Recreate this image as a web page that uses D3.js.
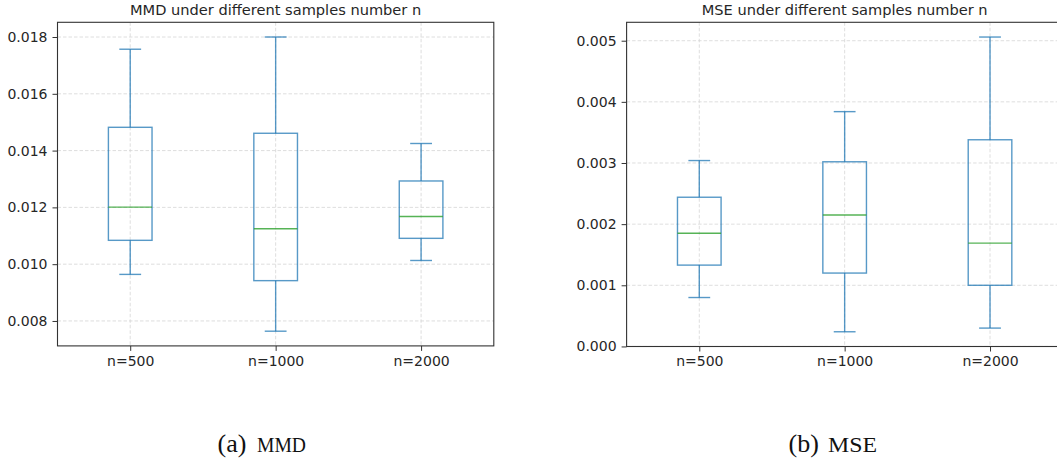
<!DOCTYPE html>
<html>
<head>
<meta charset="utf-8">
<title>MMD / MSE boxplots</title>
<script src="https://d3js.org/d3.v7.min.js"></script>
<style>
  body { margin: 0; background: #fff; }
  svg { display: block; }
  .tick text { font-family: "DejaVu Sans", sans-serif; font-size: 14px; fill: #262626; }
  .tick line { stroke: #333; }
</style>
</head>
<body>
<div id="chart"></div>
<script>
// categories (x axis)
var categories = ["n=500", "n=1000", "n=2000"];

// MMD box stats
var mmdLow    = [0.00964, 0.00764, 0.01013];
var mmdQ1     = [0.01084, 0.00942, 0.01091];
var mmdMedian = [0.01201, 0.01125, 0.01168];
var mmdQ3     = [0.01482, 0.01461, 0.01293];
var mmdHigh   = [0.01757, 0.01800, 0.01425];

// MSE box stats
var mseLow    = [0.00080, 0.00024, 0.00030];
var mseQ1     = [0.00133, 0.00120, 0.00100];
var mseMedian = [0.00185, 0.00215, 0.00169];
var mseQ3     = [0.00244, 0.00302, 0.00338];
var mseHigh   = [0.00304, 0.00384, 0.00506];

var titles = ["MMD under different samples number n", "MSE under different samples number n"];
var captionTags = ["(a)", "(b)"];
var captionNames = ["MMD", "MSE"];

var W = 1057, H = 463;
var blue = "#1f77b4", green = "#2ca02c";

var svg = d3.select("#chart").append("svg")
    .attr("width", W)
    .attr("height", H);

function boxRows(low, q1, med, q3, high) {
    return categories.map(function(c, i) {
        return { cat: c, low: low[i], q1: q1[i], med: med[i], q3: q3[i], high: high[i] };
    });
}

function drawPanel(opt) {
    var rows = opt.rows;
    var width = opt.width, height = opt.height;

    var g = svg.append("g")
        .attr("transform", "translate(" + opt.left + "," + opt.top + ")");

    var x = d3.scalePoint().domain(categories).range([0, width]).padding(0.5);
    var step = x.step();

    // matplotlib style 5% margin around the data
    var lo = d3.min(rows, function(d) { return d.low; });
    var hi = d3.max(rows, function(d) { return d.high; });
    var pad = (hi - lo) * 0.05;
    var y = d3.scaleLinear().domain([lo - pad, hi + pad]).range([height, 0]);
    var yTicks = y.ticks(6);

    // grid
    g.append("g").selectAll("line.hgrid")
        .data(yTicks)
        .join("line")
        .attr("x1", 0).attr("x2", width)
        .attr("y1", function(d) { return y(d); })
        .attr("y2", function(d) { return y(d); })
        .attr("stroke", "#d5d5d5")
        .attr("stroke-width", 0.8)
        .attr("stroke-dasharray", "3.5,2");
    g.append("g").selectAll("line.vgrid")
        .data(categories)
        .join("line")
        .attr("x1", function(d) { return x(d); })
        .attr("x2", function(d) { return x(d); })
        .attr("y1", 0).attr("y2", height)
        .attr("stroke", "#d5d5d5")
        .attr("stroke-width", 0.8)
        .attr("stroke-dasharray", "3.5,2");

    var bw = step * 0.3, cw = step * 0.15;

    var box = g.append("g").selectAll("g.box")
        .data(rows)
        .join("g")
        .attr("fill", "none")
        .attr("stroke-width", 1.4);

    // whiskers
    box.append("line")
        .attr("x1", function(d) { return x(d.cat); })
        .attr("x2", function(d) { return x(d.cat); })
        .attr("y1", function(d) { return y(d.q3); })
        .attr("y2", function(d) { return y(d.high); })
        .attr("stroke", blue).attr("stroke-opacity", 0.75);
    box.append("line")
        .attr("x1", function(d) { return x(d.cat); })
        .attr("x2", function(d) { return x(d.cat); })
        .attr("y1", function(d) { return y(d.q1); })
        .attr("y2", function(d) { return y(d.low); })
        .attr("stroke", blue).attr("stroke-opacity", 0.75);
    // caps
    box.append("line")
        .attr("x1", function(d) { return x(d.cat) - cw / 2; })
        .attr("x2", function(d) { return x(d.cat) + cw / 2; })
        .attr("y1", function(d) { return y(d.high); })
        .attr("y2", function(d) { return y(d.high); })
        .attr("stroke", blue).attr("stroke-opacity", 0.75);
    box.append("line")
        .attr("x1", function(d) { return x(d.cat) - cw / 2; })
        .attr("x2", function(d) { return x(d.cat) + cw / 2; })
        .attr("y1", function(d) { return y(d.low); })
        .attr("y2", function(d) { return y(d.low); })
        .attr("stroke", blue).attr("stroke-opacity", 0.75);
    // box
    box.append("rect")
        .attr("x", function(d) { return x(d.cat) - bw / 2; })
        .attr("width", bw)
        .attr("y", function(d) { return y(d.q3); })
        .attr("height", function(d) { return y(d.q1) - y(d.q3); })
        .attr("stroke", blue).attr("stroke-opacity", 0.75);
    // median
    box.append("line")
        .attr("x1", function(d) { return x(d.cat) - bw / 2; })
        .attr("x2", function(d) { return x(d.cat) + bw / 2; })
        .attr("y1", function(d) { return y(d.med); })
        .attr("y2", function(d) { return y(d.med); })
        .attr("stroke", green).attr("stroke-opacity", 0.8);

    // axes
    g.append("g")
        .attr("transform", "translate(0," + height + ")")
        .call(d3.axisBottom(x).tickSize(5).tickPadding(5))
        .call(function(a) { a.select(".domain").remove(); });
    g.append("g")
        .call(d3.axisLeft(y).tickValues(yTicks).tickSize(5).tickPadding(5).tickFormat(d3.format(".3f")))
        .call(function(a) { a.select(".domain").remove(); });

    // spines
    g.append("rect")
        .attr("width", width).attr("height", height)
        .attr("fill", "none")
        .attr("stroke", "#333")
        .attr("stroke-width", 1.1);

    // title
    g.append("text")
        .attr("x", width / 2)
        .attr("y", 15 - opt.top)
        .attr("text-anchor", "middle")
        .attr("font-family", "DejaVu Sans, sans-serif")
        .attr("font-size", "14.6px")
        .attr("fill", "#262626")
        .text(opt.title);

    // caption below: "(x)" in serif, name in a narrow typewriter-like serif
    svg.append("text")
        .attr("x", opt.captionX - 44)
        .attr("y", 452)
        .attr("font-family", "Liberation Serif, serif")
        .attr("font-size", "26px")
        .attr("fill", "#111")
        .text(opt.tag);
    svg.append("text")
        .attr("x", opt.captionX - 4.5)
        .attr("y", 452)
        .attr("font-family", "Liberation Serif, serif")
        .attr("font-size", "21px")
        .attr("textLength", 49)
        .attr("lengthAdjust", "spacingAndGlyphs")
        .attr("fill", "#111")
        .text(opt.name);
}

drawPanel({
    rows: boxRows(mmdLow, mmdQ1, mmdMedian, mmdQ3, mmdHigh),
    left: 57.5, top: 22.3, width: 436.3, height: 323.6,
    title: titles[0], tag: captionTags[0], name: captionNames[0], captionX: 261.5
});
drawPanel({
    rows: boxRows(mseLow, mseQ1, mseMedian, mseQ3, mseHigh),
    left: 626.6, top: 22.3, width: 436.1, height: 324.2,
    title: titles[1], tag: captionTags[1], name: captionNames[1], captionX: 832.5
});
</script>
</body>
</html>
